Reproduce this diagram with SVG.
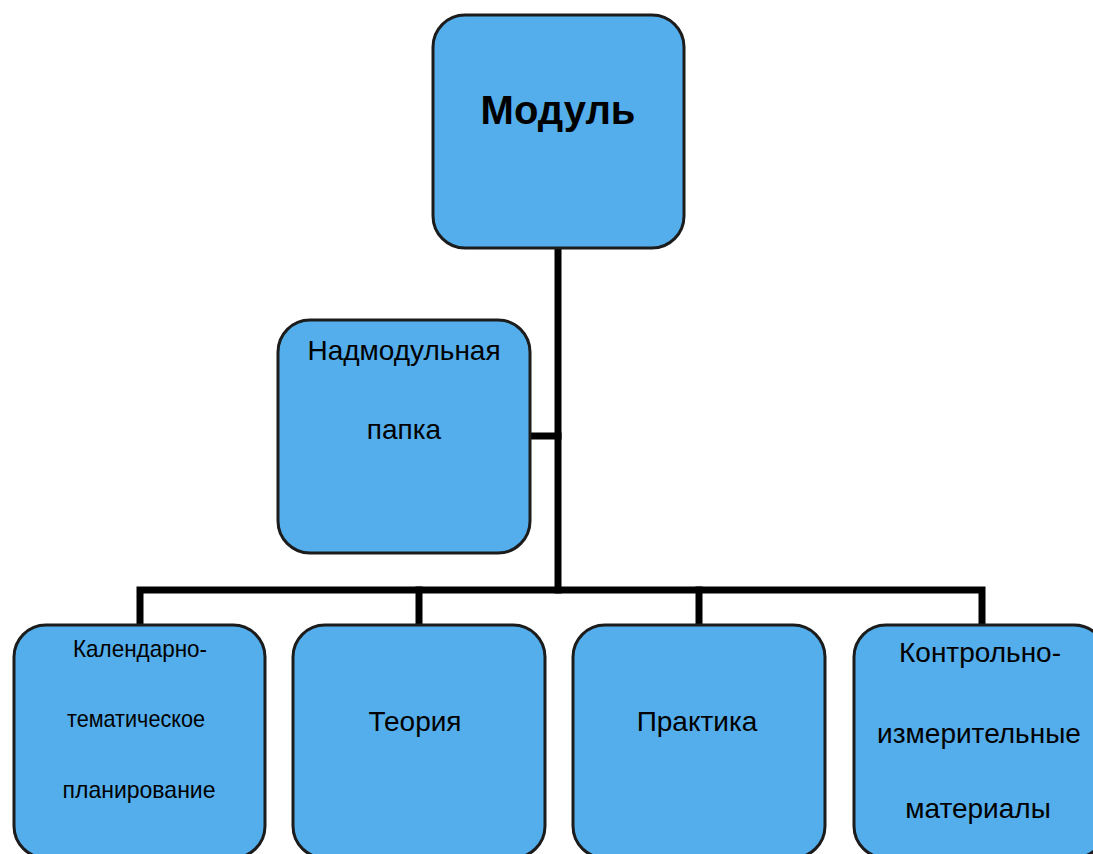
<svg xmlns="http://www.w3.org/2000/svg" width="1093" height="854" viewBox="0 0 1093 854">
<style>
.box{fill:#53aeeb;stroke:#1c1c1c;stroke-width:3}
.t{font-family:"Liberation Sans",Arial,sans-serif;font-size:28px;fill:#000;text-anchor:middle}
.s{font-size:24px}
.b{font-weight:bold;font-size:40px}
.c{stroke:#000;stroke-width:7;fill:none;stroke-linecap:square}
</style>
<rect width="1093" height="854" fill="#fff"/>
<g id="connectors">
<line class="c" x1="558" y1="248" x2="558" y2="590"/>
<line class="c" x1="531" y1="436" x2="558" y2="436"/>
<polyline class="c" points="140,623 140,590 982,590 982,623"/>
<line class="c" x1="419" y1="590" x2="419" y2="623"/>
<line class="c" x1="699" y1="590" x2="699" y2="623"/>
</g>
<g id="node-modul">
<rect class="box" x="433" y="15" width="251" height="233" rx="32"/>
<text class="t b" x="558" y="124">Модуль</text>
</g>
<g id="node-nadmodul">
<rect class="box" x="278" y="320" width="252" height="233" rx="32"/>
<text class="t" x="404" y="360">Надмодульная</text>
<text class="t" x="404" y="439">папка</text>
</g>
<g id="node-kalendar">
<rect class="box" x="14" y="625" width="251" height="233" rx="32"/>
<text class="t s" x="140" y="657" textLength="134" lengthAdjust="spacingAndGlyphs">Календарно-</text>
<text class="t s" x="136" y="727" textLength="138" lengthAdjust="spacingAndGlyphs">тематическое</text>
<text class="t s" x="139" y="798" textLength="153" lengthAdjust="spacingAndGlyphs">планирование</text>
</g>
<g id="node-teoria">
<rect class="box" x="293" y="625" width="252" height="233" rx="32"/>
<text class="t" x="415" y="731">Теория</text>
</g>
<g id="node-praktika">
<rect class="box" x="573" y="625" width="252" height="233" rx="32"/>
<text class="t" x="697" y="731">Практика</text>
</g>
<g id="node-kim">
<rect class="box" x="854" y="625" width="252" height="233" rx="32"/>
<text class="t" x="980" y="662">Контрольно-</text>
<text class="t" x="979" y="743">измерительные</text>
<text class="t" x="978" y="818">материалы</text>
</g>
</svg>
